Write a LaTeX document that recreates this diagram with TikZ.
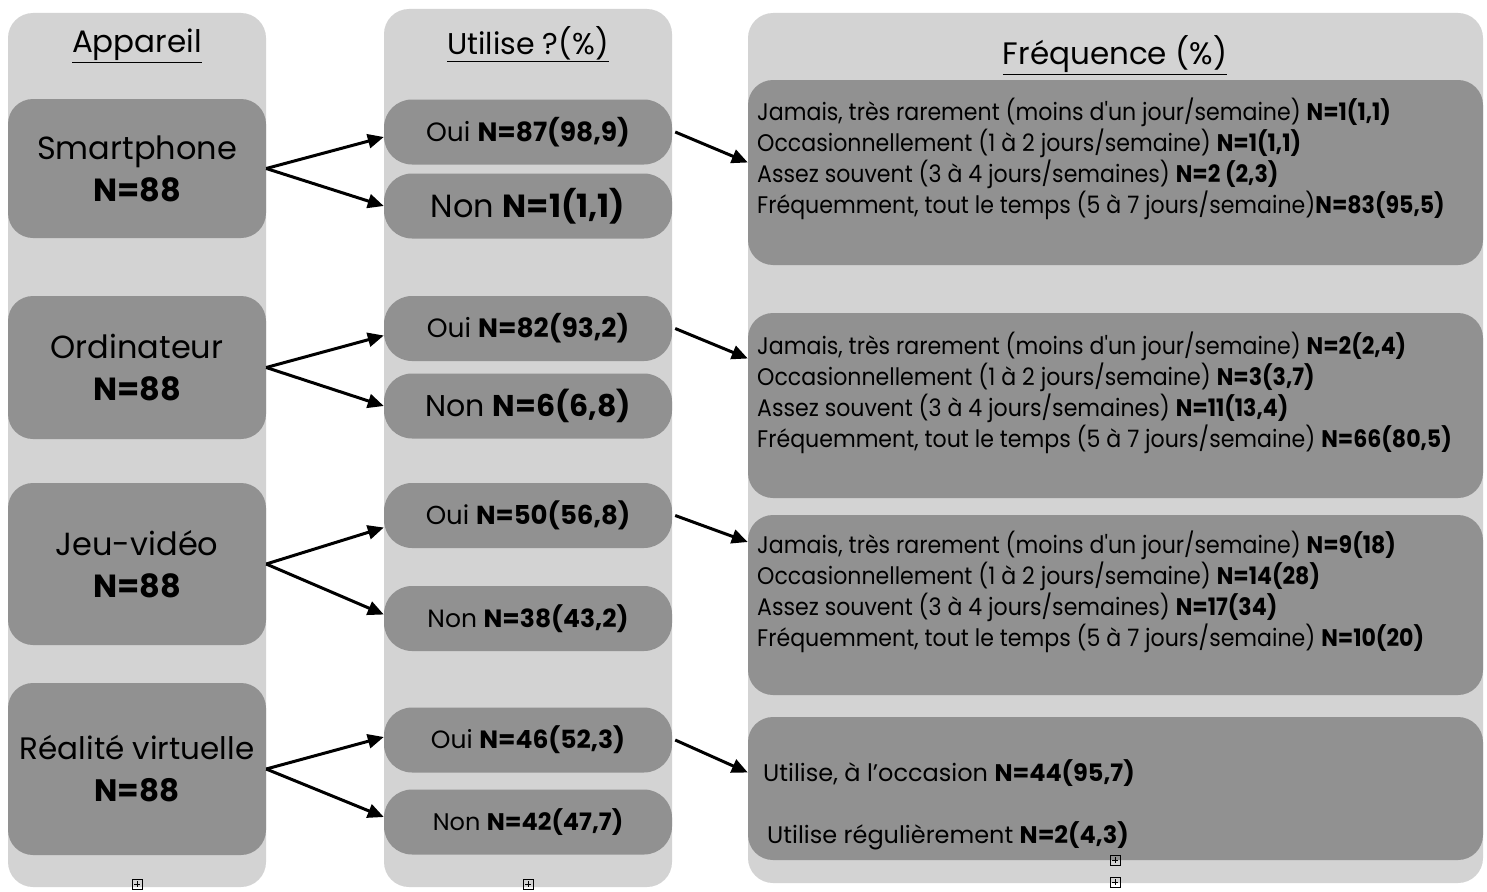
\documentclass[tikz,border=0pt]{standalone}
\usepackage{fontspec}
\setmainfont{Poppins}
\newfontfamily\freqfont{Poppins}[FakeStretch=0.92]
\usetikzlibrary{arrows.meta}
\definecolor{colbg}{RGB}{211,211,211}
\definecolor{boxbg}{RGB}{145,145,145}
\tikzset{
	column/.style={fill=colbg, rounded corners=25pt, inner sep=0pt},
	heading/.style={inner sep=0pt, font=\fontsize{30}{36}\selectfont},
	device/.style={fill=boxbg, rounded corners=25pt, minimum width=258pt, align=center, inner sep=0pt, font=\fontsize{32}{42}\selectfont},
	answer/.style={fill=boxbg, rounded corners=28pt, minimum width=288pt, minimum height=65pt, inner sep=0pt, font=\fontsize{26}{31}\selectfont},
	freq/.style={fill=boxbg, rounded corners=25pt, minimum width=735pt, inner sep=0pt},
	freqtext/.style={anchor=west, align=left, inner sep=0pt, font=\freqfont\fontsize{24}{31}\selectfont},
	link/.style={line width=3pt, -{Triangle[length=16pt,width=14pt]}},
	marker/.style={draw, line width=0.6pt, minimum size=10pt, inner sep=0pt,
		path picture={\draw[line width=0.6pt] ([yshift=-2pt]path picture bounding box.north) -- ([yshift=2pt]path picture bounding box.south) ([xshift=2pt]path picture bounding box.west) -- ([xshift=-2pt]path picture bounding box.east);}}
}
\begin{document}
\begin{tikzpicture}[x=1pt,y=-1pt]
		\useasboundingbox (0,0) rectangle (1487,891);
		
		\node[column, minimum width=258pt, minimum height=874pt] (colA) at (137,450) {};
		\node[column, minimum width=288pt, minimum height=878pt] (colB) at (528,448) {};
		\node[column, minimum width=735pt, minimum height=870pt] (colC) at (1115.5,448) {};
		
		\node[heading, font=\fontsize{31}{36}\selectfont] (hA) at (137,46) {\underline{Appareil}};
		\node[heading] (hB) at (528,44) {\underline{Utilise ?(\%)}};
		\node[heading, font=\fontsize{31}{38}\selectfont] (hC) at (1115,55) {\underline{Fréquence (\%)}};
		
		\node[device, minimum height=139pt] (smart) at (137,168.5) {Smartphone\\\textbf{N=88}};
		\node[device, minimum height=143pt] (ordi) at (137,367.5) {Ordinateur\\\textbf{N=88}};
		\node[device, minimum height=162pt] (jeu) at (137,564) {Jeu-vidéo\\\textbf{N=88}};
		\node[device, minimum height=172pt, font=\fontsize{31}{42}\selectfont] (vr) at (137,769) {Réalité virtuelle\\\textbf{N=88}};
		
		\node[answer, font=\fontsize{26.5}{31}\selectfont] (oui1) at (528,132) {Oui \textbf{N=87(98,9)}};
		\node[answer, font=\fontsize{32}{36}\selectfont] (non1) at (528,206) {Non \textbf{N=1(1,1)}};
		\node[answer, font=\fontsize{26.5}{31}\selectfont] (oui2) at (528,328.5) {Oui \textbf{N=82(93,2)}};
		\node[answer, font=\fontsize{30}{36}\selectfont] (non2) at (528,406) {Non \textbf{N=6(6,8)}};
		\node[answer] (oui3) at (528,515.5) {Oui \textbf{N=50(56,8)}};
		\node[answer, font=\fontsize{25}{31}\selectfont] (non3) at (528,618.5) {Non \textbf{N=38(43,2)}};
		\node[answer, font=\fontsize{25}{31}\selectfont] (oui4) at (528,740) {Oui \textbf{N=46(52,3)}};
		\node[answer, font=\fontsize{24}{31}\selectfont] (non4) at (528,822) {Non \textbf{N=42(47,7)}};
		
		\node[freq, minimum height=185pt] (f1) at (1115.5,172.5) {};
		\node[freq, minimum height=185pt] (f2) at (1115.5,405.5) {};
		\node[freq, minimum height=180pt] (f3) at (1115.5,605) {};
		\node[freq, minimum height=143pt] (f4) at (1115.5,788.5) {};
		
		\node[freqtext] (t1) at (757,158.5) {Jamais, très rarement (moins d'un jour/semaine) \textbf{N=1(1,1)}\\Occasionnellement (1 à 2 jours/semaine) \textbf{N=1(1,1)}\\Assez souvent (3 à 4 jours/semaines) \textbf{N=2 (2,3)}\\Fréquemment, tout le temps (5 à 7 jours/semaine)\textbf{N=83(95,5)}};
		\node[freqtext] (t2) at (757,392.5) {Jamais, très rarement (moins d'un jour/semaine) \textbf{N=2(2,4)}\\Occasionnellement (1 à 2 jours/semaine) \textbf{N=3(3,7)}\\Assez souvent (3 à 4 jours/semaines) \textbf{N=11(13,4)}\\Fréquemment, tout le temps (5 à 7 jours/semaine) \textbf{N=66(80,5)}};
		\node[freqtext] (t3) at (757,592) {Jamais, très rarement (moins d'un jour/semaine) \textbf{N=9(18)}\\Occasionnellement (1 à 2 jours/semaine) \textbf{N=14(28)}\\Assez souvent (3 à 4 jours/semaines) \textbf{N=17(34)}\\Fréquemment, tout le temps (5 à 7 jours/semaine) \textbf{N=10(20)}};
		\node[freqtext, font=\fontsize{24}{31}\selectfont] (t4a) at (763,773) {Utilise, à l'occasion \textbf{N=44(95,7)}};
		\node[freqtext, font=\fontsize{24}{31}\selectfont] (t4b) at (767,836) {Utilise régulièrement \textbf{N=2(4,3)}};
		
		\draw[link] (smart.east) -- ([yshift=-5pt]oui1.west);
		\draw[link] (smart.east) -- (non1.west);
		\draw[link] (ordi.east) -- ([yshift=-7pt]oui2.west);
		\draw[link] (ordi.east) -- (non2.west);
		\draw[link] (jeu.east) -- ([yshift=-12pt]oui3.west);
		\draw[link] (jeu.east) -- ([yshift=4pt]non3.west);
		\draw[link] (vr.east) -- ([yshift=3pt]oui4.west);
		\draw[link] (vr.east) -- ([yshift=5pt]non4.west);
		
		\draw[link] ([xshift=3pt]oui1.east) -- ([yshift=10pt]f1.west);
		\draw[link] ([xshift=3pt]oui2.east) -- ([yshift=47pt]f2.west);
		\draw[link] ([xshift=3pt]oui3.east) -- ([yshift=63pt]f3.west);
		\draw[link] ([xshift=3pt]oui4.east) -- ([yshift=16pt]f4.west);
		
		\node[marker] (mA) at (137,884) {};
		\node[marker] (mB) at (528,884) {};
		\node[marker] (mC) at (1115,860) {};
		\node[marker] (mD) at (1115,882) {};
\end{tikzpicture}
\end{document}
